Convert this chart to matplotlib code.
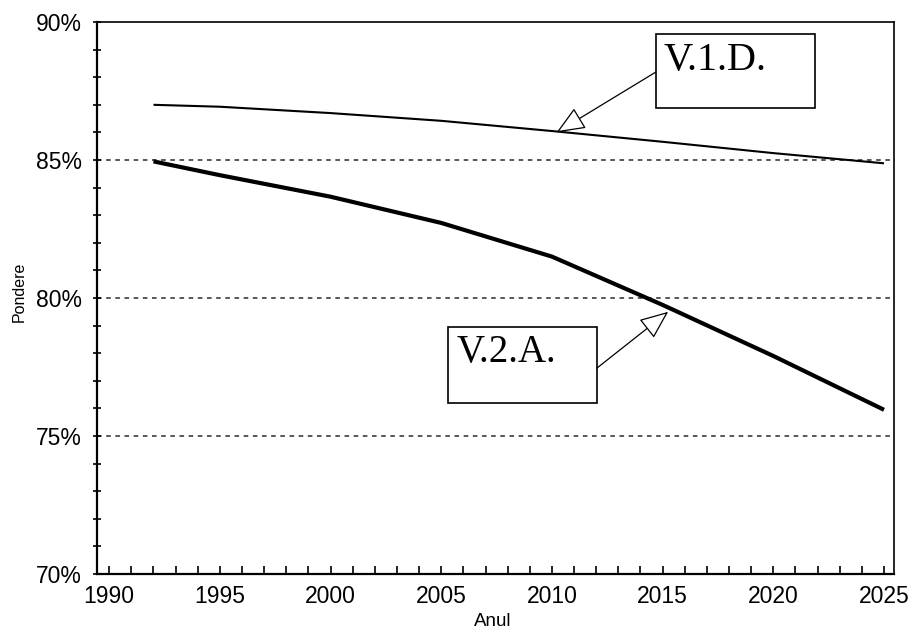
import matplotlib
matplotlib.use("Agg")
import matplotlib.pyplot as plt
from matplotlib.patches import Rectangle
from matplotlib.ticker import MultipleLocator, FuncFormatter

# date (pondere, %)
years = [1992, 1995, 2000, 2005, 2010, 2015, 2020, 2025]
v1d = [87.0, 86.93, 86.7, 86.42, 86.05, 85.66, 85.25, 84.88]
v2a = [84.95, 84.45, 83.67, 82.72, 81.5, 79.75, 77.9, 75.95]
grid_levels = [75, 80, 85]

sans = "Liberation Sans"
serif = "Liberation Serif"

fig = plt.figure(figsize=(9.11, 6.34), dpi=100)
ax = fig.add_axes([0.1065, 0.0946, 0.8748, 0.8707])

ax.plot(years, v1d, color="black", lw=1.5, solid_capstyle="butt")
ax.plot(years, v2a, color="black", lw=3.0, solid_capstyle="butt")

for g in grid_levels:
    ax.axhline(g, color="#2a2a2a", lw=1.1, ls=(0, (3, 3)), zorder=0)

ax.set_xlim(1989.45, 2025.45)
ax.set_ylim(70, 90)
ax.xaxis.set_major_locator(MultipleLocator(5))
ax.xaxis.set_minor_locator(MultipleLocator(1))
ax.yaxis.set_major_locator(MultipleLocator(5))
ax.yaxis.set_minor_locator(MultipleLocator(1))
ax.yaxis.set_major_formatter(FuncFormatter(lambda v, p: f"{v:.0f}%"))

ax.tick_params(axis="x", which="both", direction="in", length=6, width=1.2, pad=8)
ax.tick_params(axis="y", which="both", direction="inout", length=6, width=1.2, pad=8)
for lab in ax.get_xticklabels() + ax.get_yticklabels():
    lab.set_fontfamily(sans)
    lab.set_fontsize(16.5)

ax.spines["left"].set_linewidth(1.6)
ax.spines["bottom"].set_linewidth(1.6)
ax.spines["top"].set_linewidth(1.2)
ax.spines["right"].set_linewidth(1.2)

fig.text(0.021, 0.539, "Pondere", rotation=90, ha="center", va="center",
         family=sans, fontsize=11.5)
fig.text(0.541, 0.019, "Anul", ha="center", va="center",
         family=sans, fontsize=13.5)

# casete cu etichete + sageti
boxes = [
    ("V.1.D.", (2014.70, 86.884), 7.19, 2.681, (2015.02, 88.26), 29,
     (2014.70, 88.19), (2010.21, 86.0)),
    ("V.2.A.", (2005.30, 76.20), 6.73, 2.75, (2005.71, 77.68), 28,
     (2012.03, 77.46), (2015.25, 79.50)),
]
for name, xy, w, h, txy, fs, start, tip in boxes:
    ax.add_patch(Rectangle(xy, w, h, fill=True, fc="white", ec="black", lw=1.2, zorder=4))
    ax.text(txy[0], txy[1], name, family=serif, fontsize=fs, ha="left",
            va="baseline", zorder=5)
    ax.annotate("", xy=tip, xytext=start, zorder=6,
                arrowprops=dict(arrowstyle="-|>,head_length=1.8,head_width=0.75",
                                fc="white", ec="black", lw=0.9,
                                shrinkA=0, shrinkB=0))

fig.savefig("out.png", dpi=100)
